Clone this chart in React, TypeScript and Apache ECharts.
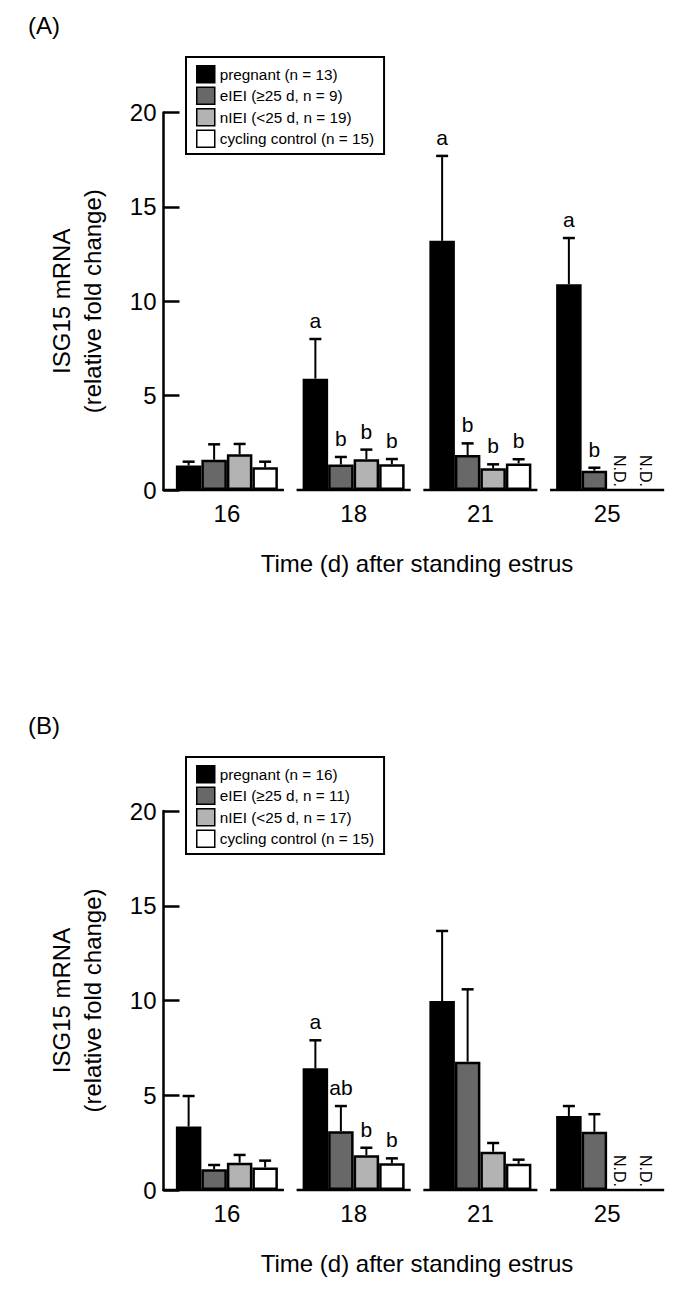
import React, { useEffect, useRef } from "react";
import * as echarts from "echarts";

const FONT = "'Liberation Sans', Arial, Helvetica, sans-serif";

// categories
const days = ["16", "18", "21", "25"];
const yTicks = [0, 5, 10, 15, 20];

// ---- Panel A ----
const namesA = ["pregnant (n = 13)", "eIEI (≥25 d, n = 9)", "nIEI (<25 d, n = 19)", "cycling control (n = 15)"];
const pregnantA = [1.3, 5.9, 13.2, 10.9];
const pregnantErrA = [1.5, 8.0, 17.7, 13.35];
const eieiA = [1.6, 1.35, 1.85, 1.02];
const eieiErrA = [2.42, 1.75, 2.47, 1.18];
const nieiA = [1.9, 1.63, 1.15, null];
const nieiErrA = [2.44, 2.14, 1.36, null];
const cyclingA = [1.2, 1.36, 1.41, null];
const cyclingErrA = [1.5, 1.64, 1.63, null];
const lettersA = [
  ["", "a", "a", "a"],
  ["", "b", "b", "b"],
  ["", "b", "b", ""],
  ["", "b", "b", ""],
];

// ---- Panel B ----
const namesB = ["pregnant (n = 16)", "eIEI (≥25 d, n = 11)", "nIEI (<25 d, n = 17)", "cycling control (n = 15)"];
const pregnantB = [3.35, 6.42, 9.97, 3.9];
const pregnantErrB = [4.96, 7.9, 13.67, 4.43];
const eieiB = [1.09, 3.1, 6.77, 3.07];
const eieiErrB = [1.32, 4.43, 10.59, 4.0];
const nieiB = [1.44, 1.84, 2.02, null];
const nieiErrB = [1.85, 2.23, 2.48, null];
const cyclingB = [1.19, 1.41, 1.38, null];
const cyclingErrB = [1.55, 1.67, 1.6, null];
const lettersB = [
  ["", "a", "", ""],
  ["", "ab", "", ""],
  ["", "b", "", ""],
  ["", "b", "", ""],
];

const fills = ["#000000", "#686868", "#b3b3b3", "#ffffff"];
const BAR_W = 25.5;

type Panel = {
  names: string[];
  values: (number | null)[][];
  errs: (number | null)[][];
  letters: string[][];
  title: string;
  grid: { top: number; height: number };
  legendTop: number;
  titleTop: number;
};

const panels: Panel[] = [
  {
    names: namesA,
    values: [pregnantA, eieiA, nieiA, cyclingA],
    errs: [pregnantErrA, eieiErrA, nieiErrA, cyclingErrA],
    letters: lettersA,
    title: "(A)",
    grid: { top: 112.5, height: 377.5 },
    legendTop: 57,
    titleTop: 13,
  },
  {
    names: namesB,
    values: [pregnantB, eieiB, nieiB, cyclingB],
    errs: [pregnantErrB, eieiErrB, nieiErrB, cyclingErrB],
    letters: lettersB,
    title: "(B)",
    grid: { top: 811, height: 379 },
    legendTop: 757,
    titleTop: 713,
  },
];

function buildOption() {
  const grids: any[] = [];
  const xAxes: any[] = [];
  const yAxes: any[] = [];
  const legends: any[] = [];
  const series: any[] = [];
  const graphics: any[] = [];

  panels.forEach((p, g) => {
    grids.push({ left: 163.5, width: 507, top: p.grid.top, height: p.grid.height });
    xAxes.push({
      gridIndex: g,
      type: "category",
      data: days,
      axisLine: { show: false },
      axisTick: { show: false },
      axisLabel: { fontSize: 24, color: "#000", margin: 11, fontFamily: FONT },
      name: "Time (d) after standing estrus",
      nameLocation: "middle",
      nameGap: 61,
      nameTextStyle: { fontSize: 24, color: "#000", fontFamily: FONT },
    });
    yAxes.push({
      gridIndex: g,
      type: "value",
      min: yTicks[0],
      max: yTicks[yTicks.length - 1],
      interval: 5,
      axisLine: { show: true, lineStyle: { color: "#000", width: 2.5 } },
      axisTick: { show: true, inside: true, length: 16, lineStyle: { color: "#000", width: 2.5 } },
      axisLabel: { fontSize: 24, color: "#000", margin: 7, fontFamily: FONT },
      splitLine: { show: false },
      name: "ISG15 mRNA\n(relative fold change)",
      nameLocation: "middle",
      nameRotate: 90,
      nameGap: 56,
      nameTextStyle: { fontSize: 24, lineHeight: 31, color: "#000", fontFamily: FONT },
    });
    legends.push({
      data: p.names,
      left: 186,
      top: p.legendTop,
      orient: "vertical",
      icon: "rect",
      itemWidth: 18,
      itemHeight: 17,
      itemGap: 3,
      padding: [8, 10, 6, 10],
      borderColor: "#000",
      borderWidth: 2,
      selectedMode: false,
      itemStyle: { borderColor: "#000", borderWidth: 1.5 },
      textStyle: { fontSize: 15.3, color: "#000", fontFamily: FONT },
    });

    p.names.forEach((name, s) => {
      series.push({
        type: "bar",
        name,
        xAxisIndex: g,
        yAxisIndex: g,
        data: p.values[s],
        barWidth: BAR_W,
        barGap: "0%",
        itemStyle: { color: fills[s], borderColor: "#000", borderWidth: 2.5 },
        z: 2,
      });
    });

    // error bars, significance letters and N.D. marks
    p.names.forEach((_, s) => {
      const vals = p.values[s];
      const errs = p.errs[s];
      series.push({
        type: "custom",
        xAxisIndex: g,
        yAxisIndex: g,
        z: 5,
        data: vals.map((v, i) => [i, v == null ? 0 : v, errs[i] == null ? 0 : errs[i]]),
        renderItem: (params: any, api: any) => {
          const i = api.value(0);
          const v = vals[i];
          const base0 = api.coord([i, 0]);
          const x = base0[0] + (s - 1.5) * BAR_W;
          if (v == null) {
            return {
              type: "text",
              x: x,
              y: base0[1] - 3,
              rotation: -Math.PI / 2,
              style: {
                text: "N.D.",
                fontSize: 16,
                fontFamily: FONT,
                fill: "#000",
                align: "right",
                verticalAlign: "middle",
              },
            };
          }
          const b = api.coord([i, v]);
          const t = api.coord([i, errs[i] as number]);
          const children: any[] = [
            { type: "line", shape: { x1: x, y1: b[1], x2: x, y2: t[1] }, style: { stroke: "#000", lineWidth: 2 } },
            { type: "line", shape: { x1: x - 6, y1: t[1], x2: x + 6, y2: t[1] }, style: { stroke: "#000", lineWidth: 2.5 } },
          ];
          const letter = p.letters[s][i];
          if (letter) {
            children.push({
              type: "text",
              x: x,
              y: t[1] - 8,
              style: {
                text: letter,
                fontSize: 21,
                fontFamily: FONT,
                fill: "#000",
                align: "center",
                verticalAlign: "bottom",
              },
            });
          }
          return { type: "group", children };
        },
      });
    });

    // broken x-axis baseline segments
    series.push({
      type: "custom",
      xAxisIndex: g,
      yAxisIndex: g,
      z: 6,
      data: days.map((_, i) => [i, 0]),
      renderItem: (params: any, api: any) => {
        const i = api.value(0);
        const c = api.coord([i, 0]);
        const bw = api.size([1, 0])[0];
        const x1 = i === 0 ? c[0] - bw / 2 - 1 : c[0] - 0.45 * bw;
        const x2 = c[0] + 0.45 * bw;
        return {
          type: "line",
          shape: { x1, y1: c[1], x2, y2: c[1] },
          style: { stroke: "#000", lineWidth: 2.6 },
        };
      },
    });

    graphics.push({
      type: "text",
      left: 28,
      top: p.titleTop,
      style: { text: p.title, fontSize: 24, fontFamily: FONT, fill: "#000" },
    });
  });

  return {
    animation: false,
    backgroundColor: "#ffffff",
    textStyle: { fontFamily: FONT },
    grid: grids,
    xAxis: xAxes,
    yAxis: yAxes,
    legend: legends,
    series,
    graphic: graphics,
  };
}

export default function App() {
  const ref = useRef<HTMLDivElement>(null);
  useEffect(() => {
    if (!ref.current) return;
    const chart = echarts.init(ref.current, undefined, { renderer: "svg" });
    chart.setOption(buildOption() as any);
    return () => {
      chart.dispose();
    };
  }, []);
  return (
    <div
      ref={ref}
      style={{ position: "absolute", left: 0, top: 0, width: 685, height: 1296, background: "#fff" }}
    />
  );
}
